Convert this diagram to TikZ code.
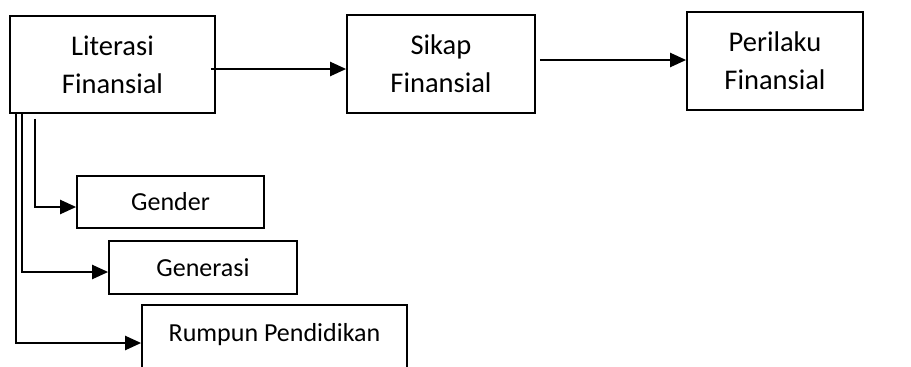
\documentclass[tikz,border=0pt]{standalone}
\usepackage{fontspec}
\setmainfont{Carlito}
\usetikzlibrary{arrows.meta}

\tikzset{
    bigbox/.style={draw, line width=1.7pt, align=center,
        font=\fontsize{28.5}{38}\selectfont},
    smallbox/.style={draw, line width=1.7pt, align=center,
        font=\fontsize{26}{32}\selectfont},
    arr/.style={line width=2.2pt, -{Triangle[length=16pt,width=14pt]}}
}

\begin{document}
\begin{tikzpicture}[x=1pt, y=-1pt]

    % 1. Page frame
    \clip (0,0) rectangle (911,367);
    \fill[white] (0,0) rectangle (911,367);

    % 2. Top row
    \node[bigbox, minimum width=205pt, minimum height=97pt] (lit) at (112.5,64.5) {Literasi\\Finansial};
    \node[bigbox, minimum width=188pt, minimum height=98pt] (sikap) at (441,64) {Sikap\\Finansial};
    \node[bigbox, minimum width=176pt, minimum height=98pt] (perilaku) at (775,61) {Perilaku\\Finansial};

    % 3. Lower boxes
    \node[smallbox, minimum width=187pt, minimum height=52pt] (gender) at (170.5,202) {Gender};
    \node[smallbox, minimum width=188pt, minimum height=53pt] (generasi) at (203,267.5) {Generasi};
    \node[smallbox, minimum width=265pt, minimum height=76pt,
          text height=17pt, text depth=20pt] (rumpun) at (274.5,343) {Rumpun Pendidikan};

    % 4. Arrows along the top
    \draw[arr] ([shift={(-5pt,-4.5pt)}]lit.east) -- ([yshift=-5pt]sikap.west);
    \draw[arr] ([shift={(4pt,4pt)}]sikap.east) -- ([yshift=1pt]perilaku.west);

    % 5. Branches down the left side
    \draw[arr] ([xshift=26pt,yshift=-5pt]lit.south west) |- ([yshift=-5pt]gender.west);
    \draw[arr] ([xshift=13pt]lit.south west) |- ([yshift=-4.5pt]generasi.west);
    \draw[arr] ([xshift=7pt]lit.south west) |- (rumpun.west);

\end{tikzpicture}
\end{document}
